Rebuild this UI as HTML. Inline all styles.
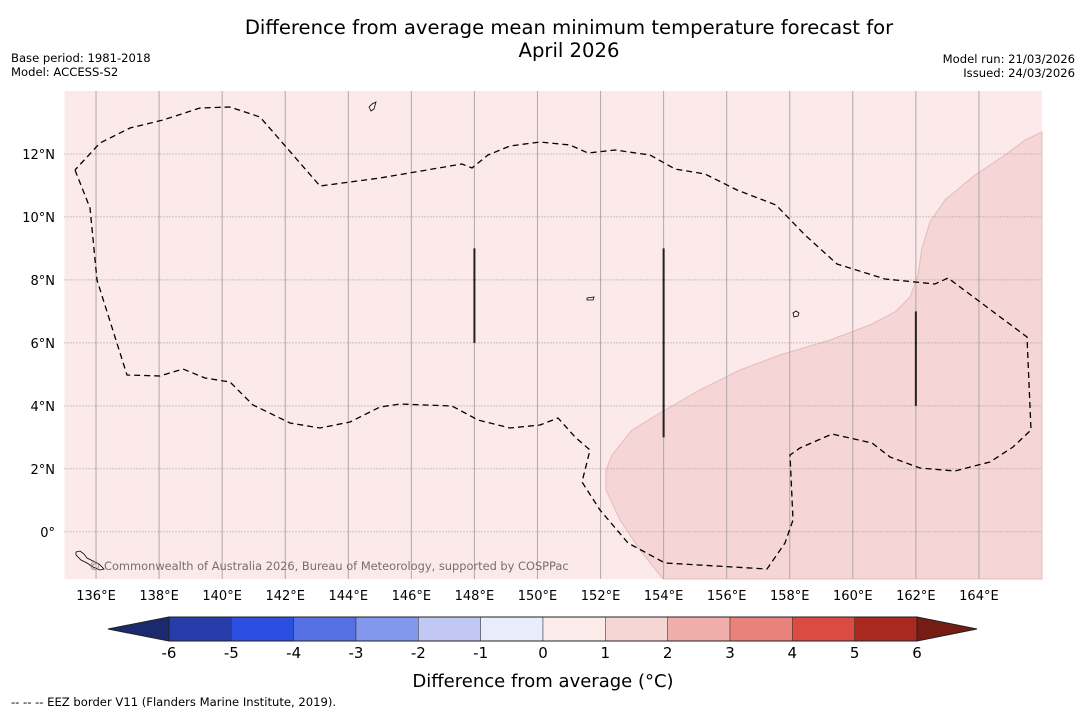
<!DOCTYPE html>
<html><head><meta charset="utf-8"><style>
body{margin:0;background:#fff;font-family:"Liberation Sans","DejaVu Sans",sans-serif;}
svg{display:block}
</style></head><body>
<svg width="1085" height="713" font-family="DejaVu Sans, Liberation Sans, sans-serif">
<text x="569" y="34" font-size="19.6" text-anchor="middle">Difference from average mean minimum temperature forecast for</text>
<text x="569" y="57" font-size="19.6" text-anchor="middle">April 2026</text>
<text x="11" y="62" font-size="11.6">Base period: 1981-2018</text>
<text x="11" y="76" font-size="11.6">Model: ACCESS-S2</text>
<text x="1075" y="63" font-size="11.6" text-anchor="end">Model run: 21/03/2026</text>
<text x="1075" y="77" font-size="11.6" text-anchor="end">Issued: 24/03/2026</text>
<g id="map"></g>
<g id="cbar"></g>
<text x="543" y="687" font-size="18" text-anchor="middle">Difference from average (°C)</text>
<text x="11" y="706" font-size="11.6">--  --  -- EEZ border V11 (Flanders Marine Institute, 2019).</text>
</svg>
<script>
const lonTicks=[136,138,140,142,144,146,148,150,152,154,156,158,160,162,164];
const latTicks=[12,10,8,6,4,2,0];
const cbarLevels=[-6,-5,-4,-3,-2,-1,0,1,2,3,4,5,6];
const cbarColors=["#263ca8","#2c4ee0","#5571e3","#8298ec","#c0c8f3","#e9ecfa","#fbecea","#f6d5d5","#efaea9","#e8827b","#db4b41","#a92920"];
const segLines=[[148,9,6],[154,9,3],[162,7,4]];
const NS="http://www.w3.org/2000/svg";
const X0=64.5,Y0=91,W=977.5,H=488,LON0=135,LON1=166,LAT0=14,LAT1=-1.5;
const lx=l=>X0+(l-LON0)/(LON1-LON0)*W, ly=l=>Y0+(LAT0-l)/(LAT0-LAT1)*H;
function mk(t,a,p){const e=document.createElementNS(NS,t);for(const k in a)e.setAttribute(k,a[k]);p.appendChild(e);return e;}
const map=document.getElementById('map');
let r=mk('rect',{x:X0,y:Y0,width:W,height:H,fill:'#fbeae9'},map);


let anom=mk('path',{d:'M663,579 L640,550 620,520 606,490 606,470 612,455 632,430 665,410 700,390 740,370 780,355 830,340 870,325 895,312 910,297 918,275 922,248 930,222 945,200 975,175 1005,155 1025,140 1042,132 1042,579Z',fill:'#f5d5d5',stroke:'#e3bcbc','stroke-width':1},map);


lonTicks.forEach(l=>{const x=lx(l);
 let g=mk('line',{x1:x,x2:x,y1:Y0,y2:Y0+H,stroke:'#b0a8a8','stroke-width':1},map);
 
 
 let t=mk('text',{x:x,y:600,'font-size':13,'text-anchor':'middle'},map);t.textContent=l+'°E';
 
 
});
latTicks.forEach(l=>{const y=ly(l);
 let g=mk('line',{x1:X0,x2:X0+W,y1:y,y2:y,stroke:'#a09898','stroke-width':1,'stroke-dasharray':'1,2'},map);
 
 
 let t=mk('text',{x:55,y:y+5,'font-size':13,'text-anchor':'end'},map);t.textContent=l===0?'0°':l+'°N';
 
 
});
let eez=mk('path',{d:'M75,170 L90,208 97,280 127,375 160,376 183,369 205,378 230,382 253,405 290,423 320,428 350,422 380,407 400,404 452,406 478,420 510,428 540,425 558,418 575,437 590,450 582,482 600,510 628,543 665,563 767,569 785,543 793,520 790,455 800,448 832,434 872,443 890,457 920,468 955,471 990,462 1013,447 1031,430 1027,337 948,278 935,284 885,279 837,264 805,235 776,205 737,190 705,174 675,169 650,155 615,150 588,153 570,145 540,142 510,146 488,155 472,168 462,164 380,178 320,186 260,117 230,107 200,108 163,120 130,128 100,143 75,170',fill:'none',stroke:'#000','stroke-width':1.3,'stroke-dasharray':'6,4'},map);


segLines.forEach(s=>{let g=mk('line',{x1:lx(s[0]),x2:lx(s[0]),y1:ly(s[1]),y2:ly(s[2]),stroke:'#222','stroke-width':2},map);
 
 });
let isl=mk('path',{d:'M76,552 l4,-1 4,3 3,4 6,3 6,3 5,5 -4,1 -7,-3 -6,-4 -6,-3 -5,-5Z M369,107 l3,-3 4,-2 -2,7 -3,2Z M793,313 l3,-2 3,2 -1,3 -4,1Z M587,298 l7,-1 -1,3 -6,0Z',fill:'none',stroke:'#000','stroke-width':0.8},map);


let cp=mk('text',{x:89,y:570,'font-size':11.4,fill:'#7a6e6e'},map);cp.textContent='© Commonwealth of Australia 2026, Bureau of Meteorology, supported by COSPPac';


const cb=document.getElementById('cbar');
const CX0=169,CX1=917,CY=617,CH=24,sw=(CX1-CX0)/cbarColors.length;
let lt=mk('polygon',{points:`108,${CY+CH/2} ${CX0},${CY} ${CX0},${CY+CH}`,fill:'#1b2a6e',stroke:'#222'},cb);


let rt=mk('polygon',{points:`977,${CY+CH/2} ${CX1},${CY} ${CX1},${CY+CH}`,fill:'#761c15',stroke:'#222'},cb);


cbarColors.forEach((c,i)=>{let s=mk('rect',{x:CX0+i*sw,y:CY,width:sw,height:CH,fill:c,stroke:'#333','stroke-width':0.5},cb);
 
 });
mk('rect',{x:CX0,y:CY,width:CX1-CX0,height:CH,fill:'none',stroke:'#222','stroke-width':1},cb);
cbarLevels.forEach((v,i)=>{let t=mk('text',{x:CX0+i*sw,y:658,'font-size':15,'text-anchor':'middle'},cb);t.textContent=v;
 
 });
</script>
</body></html>
